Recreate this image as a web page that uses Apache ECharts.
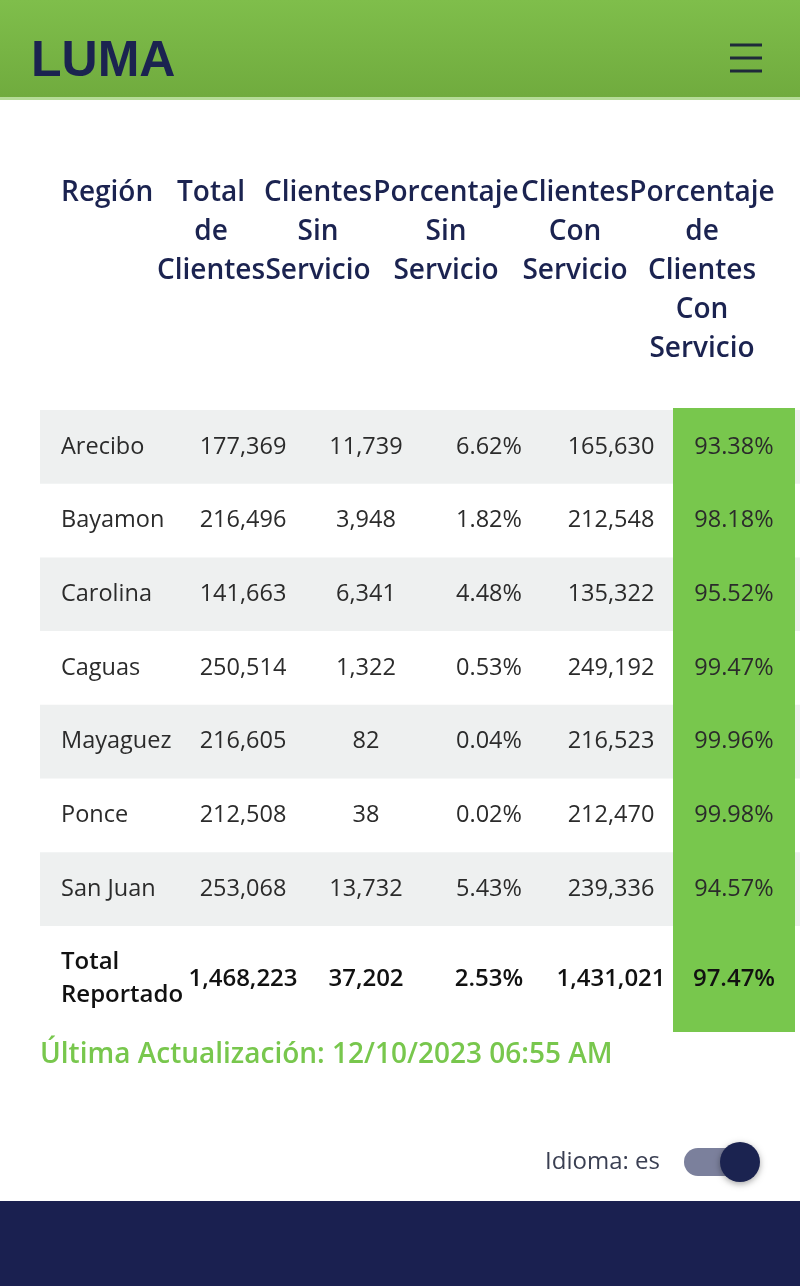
<!DOCTYPE html>
<html><head><meta charset="utf-8">
<script src="https://cdn.jsdelivr.net/npm/echarts@6/dist/echarts.min.js"></script>
<style>html,body{margin:0;padding:0;background:#fff}#c{width:800px;height:1286px}</style>
</head><body><div id="c"></div>
<script>
const headers = [
  ["Región"],
  ["Total","de","Clientes"],
  ["Clientes","Sin","Servicio"],
  ["Porcentaje","Sin","Servicio"],
  ["Clientes","Con","Servicio"],
  ["Porcentaje","de","Clientes","Con","Servicio"]
];
const regions = ["Arecibo","Bayamon","Carolina","Caguas","Mayaguez","Ponce","San Juan"];
const totalClients = ["177,369","216,496","141,663","250,514","216,605","212,508","253,068"];
const withoutService = ["11,739","3,948","6,341","1,322","82","38","13,732"];
const pctWithout = ["6.62%","1.82%","4.48%","0.53%","0.04%","0.02%","5.43%"];
const withService = ["165,630","212,548","135,322","249,192","216,523","212,470","239,336"];
const pctWith = ["93.38%","98.18%","95.52%","99.47%","99.96%","99.98%","94.57%"];
const totalRow = ["Total\nReportado","1,468,223","37,202","2.53%","1,431,021","97.47%"];
const updated = "Última Actualización: 12/10/2023 06:55 AM";
const langLabel = "Idioma: es";

const NAVY = "#1b2350", GREEN = "#78c74d", FONT = "Open Sans";
const colX = [61, 211, 318, 446, 575, 702];
const cellX = [61, 243, 366, 489, 611, 734];
const rowTop = 410, rowH = 73.7;
const g = [];

// header band
g.push({type:'rect', shape:{x:0,y:0,width:800,height:98}, style:{fill:new echarts.graphic.LinearGradient(0,0,0,1,[{offset:0,color:'#7fbe4b'},{offset:1,color:'#70ab3e'}])}});
g.push({type:'rect', shape:{x:0,y:97,width:800,height:3}, style:{fill:'#b5dc98'}});
g.push({type:'text', x:31, y:62, style:{text:'LUMA', font:'bold 50px "Liberation Sans"', fill:NAVY, verticalAlign:'middle'}});
[45,58,71].forEach(y=>g.push({type:'rect', shape:{x:730,y:y-1.5,width:32,height:3}, style:{fill:'#1f2a3a'}}));

// column headers
headers.forEach((lines,i)=>{
  lines.forEach((t,j)=>{
    g.push({type:'text', x: i===0 ? colX[0] : colX[i], y:193+j*39,
      style:{text:t, font:'600 28px "'+FONT+'"', fill:NAVY, align: i===0?'left':'center', verticalAlign:'middle'}});
  });
});

// rows
regions.forEach((r,i)=>{
  const y = rowTop + i*rowH;
  if (i%2===0) g.push({type:'rect', shape:{x:40,y:y,width:760,height:rowH}, style:{fill:'#eef0f0'}});
});
// green column
g.push({type:'rect', shape:{x:673,y:408,width:122,height:624}, style:{fill:GREEN}});

const cols = [regions,totalClients,withoutService,pctWithout,withService,pctWith];
regions.forEach((r,i)=>{
  const cy = rowTop + i*rowH + rowH/2;
  cols.forEach((arr,c)=>{
    g.push({type:'text', x:cellX[c], y:cy, style:{text:arr[i], font:'400 23.5px "'+FONT+'"', fill:'#2b2b2b', align:c===0?'left':'center', verticalAlign:'middle'}});
  });
});
const ty = 979;
totalRow.forEach((t,c)=>{
  g.push({type:'text', x:cellX[c], y:ty, style:{text:t, font:'600 24px "'+FONT+'"', fill:'#111', align:c===0?'left':'center', verticalAlign:'middle', lineHeight:33}});
});

g.push({type:'text', x:40, y:1055, style:{text:updated, font:'600 28px "'+FONT+'"', fill:GREEN, verticalAlign:'middle'}});
g.push({type:'text', x:660, y:1162, style:{text:langLabel, font:'400 24px "'+FONT+'"', fill:'#3a3f52', align:'right', verticalAlign:'middle'}});
g.push({type:'rect', shape:{x:684,y:1148,width:56,height:28,r:14}, style:{fill:'#7b809c'}});
g.push({type:'circle', shape:{cx:740,cy:1162,r:20}, style:{fill:NAVY, shadowBlur:6, shadowColor:'rgba(0,0,0,0.35)', shadowOffsetY:2}});
g.push({type:'rect', shape:{x:0,y:1201,width:800,height:85}, style:{fill:'#1a2050'}});

const chart = echarts.init(document.getElementById('c'), null, {renderer:'canvas'});
chart.setOption({backgroundColor:'#fff', animation:false, graphic:{elements:g}});
</script></body></html>
